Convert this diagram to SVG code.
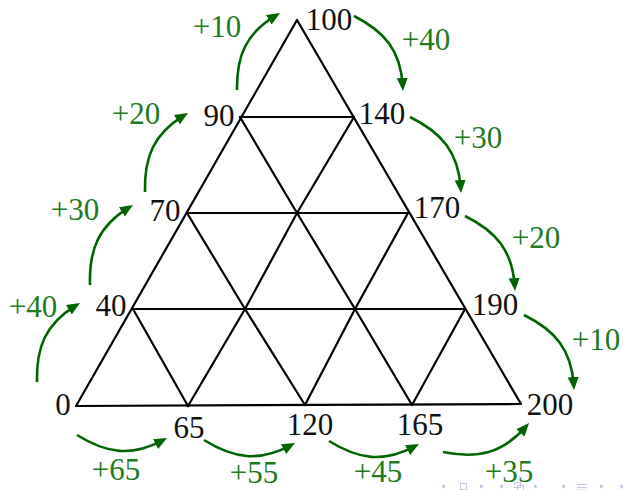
<svg xmlns="http://www.w3.org/2000/svg" width="623" height="490" viewBox="0 0 623 490">
<style>
.grid{stroke:#000;stroke-width:2.2;fill:none;stroke-linejoin:round;stroke-linecap:round}
.num{font-family:"Liberation Serif","DejaVu Serif",serif;font-size:31px;fill:#111;text-anchor:middle}
.lab{font-family:"Liberation Serif","DejaVu Serif",serif;font-size:31px;fill:#1f7a1f;text-anchor:middle}
.arr{stroke:#006400;stroke-width:2.6;fill:none;marker-end:url(#ah)}
.nav{fill:#c8c8e6}
.navs{fill:none;stroke:#c8c8e6;stroke-width:1}
</style>
<defs>
<marker id="ah" viewBox="0 -7 14 14" markerWidth="14" markerHeight="14" refX="8" refY="0" orient="auto" markerUnits="userSpaceOnUse">
<path d="M0,-5.5 L13,0 L0,5.5 Z" fill="#006400"/>
</marker>
</defs>
<rect width="623" height="490" fill="#fff"/>
<g id="triangle-grid" class="grid">
<path d="M297,20 L76,406 L521,404 Z"/>
<path d="M240,117 L354,117 M187,213 L408,213 M133,309 L465,309"/>
<path d="M240,117 L297,213 L355,309 L412,405 M187,213 L245,309 L305,405 M133,309 L188,406"/>
<path d="M188,406 L245,309 L297,213 L354,117 M305,405 L355,309 L408,213 M412,405 L465,309"/>
</g>
<g id="n100"><text class="num" x="329" y="30">100</text></g>
<g id="n140"><text class="num" x="382" y="124">140</text></g>
<g id="n170"><text class="num" x="437" y="218">170</text></g>
<g id="n190"><text class="num" x="495" y="315">190</text></g>
<g id="n200"><text class="num" x="550" y="415">200</text></g>
<g id="n90"><text class="num" x="219" y="126">90</text></g>
<g id="n70"><text class="num" x="165" y="221">70</text></g>
<g id="n40"><text class="num" x="111" y="316">40</text></g>
<g id="n0"><text class="num" x="63" y="415">0</text></g>
<g id="n65"><text class="num" x="189" y="438">65</text></g>
<g id="n120"><text class="num" x="310" y="435">120</text></g>
<g id="n165"><text class="num" x="420" y="435">165</text></g>
<g id="connectors">
<path class="arr" d="M37,382 C36.1,346.8 45.7,324 75.7,305.6"/>
<path class="arr" d="M90,285 C88.9,249.6 98.6,226.2 128.7,207.6"/>
<path class="arr" d="M145,192 C144.1,156.8 153.7,134 183.7,115.6"/>
<path class="arr" d="M237,90 C236.5,55.6 246.2,33.2 275.7,15.6"/>
<path class="arr" d="M354,16 C385.1,31.7 400.8,51.2 402.7,86"/>
<path class="arr" d="M410,117 C442,132.7 458.3,152.4 460.7,188"/>
<path class="arr" d="M465,216 C496.5,231.5 512.4,251 514.7,286"/>
<path class="arr" d="M524,315 C555.5,330.5 571.4,350 573.7,385"/>
<path class="arr" d="M77,435 C106.8,453.6 131.6,456.9 162.6,440.4"/>
<path class="arr" d="M204,440 C234.1,458.8 259.3,462.1 290.6,445.4"/>
<path class="arr" d="M329,441 C358.8,459.6 383.6,462.9 414.6,446.4"/>
<path class="arr" d="M443,452 C477.7,459 502.3,453.3 525.7,426.8"/>
<text class="lab" x="33" y="317">+40</text>
<text class="lab" x="75" y="220">+30</text>
<text class="lab" x="136" y="124">+20</text>
<text class="lab" x="217" y="37">+10</text>
<text class="lab" x="426" y="50">+40</text>
<text class="lab" x="478" y="148">+30</text>
<text class="lab" x="536" y="248">+20</text>
<text class="lab" x="596" y="350">+10</text>
<text class="lab" x="116" y="480">+65</text>
<text class="lab" x="254" y="483">+55</text>
<text class="lab" x="378" y="482">+45</text>
<text class="lab" x="509" y="482">+35</text>
</g>
<g id="navigation">
<path class="nav" d="M441,486.5 L445,484 L445,489 Z"/>
<rect class="navs" x="460.5" y="483.5" width="6" height="6"/>
<path class="nav" d="M484,486.5 L480,484 L480,489 Z"/>
<path class="nav" d="M499,486.5 L503,484 L503,489 Z"/>
<rect class="navs" x="514.5" y="482.5" width="6" height="5"/>
<rect class="navs" x="517.5" y="485.5" width="6" height="5"/>
<path class="nav" d="M538,486.5 L534,484 L534,489 Z"/>
<path class="nav" d="M561,486.5 L565,484 L565,489 Z"/>
<path class="navs" d="M577,484.5 H587 M577,487.5 H587 M577,490 H587"/>
<path class="nav" d="M604,486.5 L600,484 L600,489 Z"/>
<path class="nav" d="M619,486.5 L623,484 L623,489 Z"/>
</g>
</svg>
